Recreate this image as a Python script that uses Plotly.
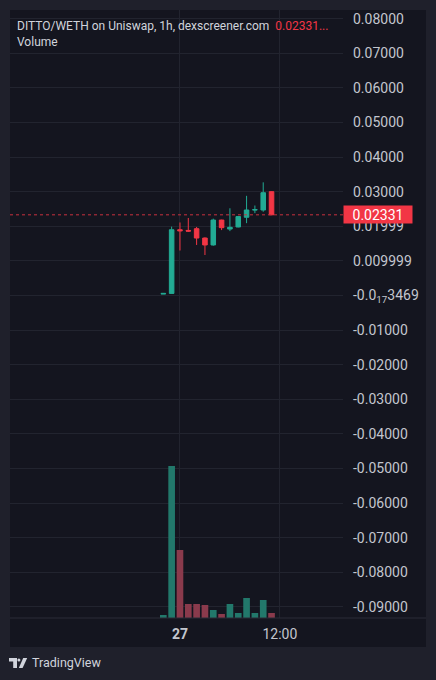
import plotly.graph_objects as go

# ---------------- data ----------------
times = ["2024-03-26 22:00", "2024-03-26 23:00", "2024-03-27 00:00", "2024-03-27 01:00",
         "2024-03-27 02:00", "2024-03-27 03:00", "2024-03-27 04:00", "2024-03-27 05:00",
         "2024-03-27 06:00", "2024-03-27 07:00", "2024-03-27 08:00", "2024-03-27 09:00",
         "2024-03-27 10:00", "2024-03-27 11:00"]
opens = [0.0004, 0.0006, 0.0190, 0.0188, 0.0193, 0.0166, 0.0146, 0.0218, 0.0192, 0.0198, 0.0226, 0.0247, 0.0247, 0.0300]
closes = [0.0006, 0.0190, 0.0187, 0.0186, 0.0166, 0.0146, 0.0218, 0.0196, 0.0197, 0.0228, 0.0247, 0.0248, 0.0297, 0.02331]
highs = [0.0007, 0.0199, 0.0211, 0.0224, 0.0198, 0.0168, 0.0222, 0.0219, 0.0252, 0.0229, 0.0288, 0.0260, 0.0327, 0.0301]
lows = [0.0004, 0.0006, 0.0130, 0.0184, 0.0146, 0.0117, 0.0144, 0.0189, 0.0186, 0.0197, 0.0209, 0.0238, 0.0242, 0.0232]
volumes = [0.6, 30.4, 13.6, 2.8, 2.8, 2.6, 1.6, 0.8, 2.8, 1.0, 4.0, 1.0, 3.6, 1.0]

last_price = 0.02331
price_ticks = [0.08, 0.07, 0.06, 0.05, 0.04, 0.03, 0.01999, 0.009999, 0.0,
               -0.01, -0.02, -0.03, -0.04, -0.05, -0.06, -0.07, -0.08, -0.09]
price_tick_text = ["0.08000", "0.07000", "0.06000", "0.05000", "0.04000", "0.03000",
                   "0.01999", "0.009999", "-0.0<sub>17</sub>3469",
                   "-0.01000", "-0.02000", "-0.03000", "-0.04000", "-0.05000",
                   "-0.06000", "-0.07000", "-0.08000", "-0.09000"]
time_ticks = ["2024-03-27 00:00", "2024-03-27 12:00"]
time_tick_text = ["<b>27</b>", "12:00"]

# ---------------- style ----------------
W, H = 436, 680
ML, MR, MT, MB = 10, 93, 10, 62
OUTER = "#1f202b"
INNER = "#14151f"
GRID = "#22242f"
TXT = "#c3c6ce"
GREEN = "#22ab94"
RED = "#f23645"
VGREEN = "#22786b"
VRED = "#8a3a4c"
FONT = "Roboto"

PW = W - ML - MR
PH = H - MT - MB


def px_x(px):
    return (px - ML) / PW


def px_y(py):
    return (H - MB - py) / PH


vol_colors = [VGREEN if c >= o else VRED for o, c in zip(opens, closes)]

fig = go.Figure()
fig.add_trace(go.Candlestick(
    x=times, open=opens, high=highs, low=lows, close=closes,
    increasing=dict(line=dict(color=GREEN, width=1), fillcolor=GREEN),
    decreasing=dict(line=dict(color=RED, width=1), fillcolor=RED),
    whiskerwidth=0, showlegend=False, hoverinfo="skip",
    xaxis="x", yaxis="y",
))
fig.add_trace(go.Bar(
    x=times, y=volumes, marker=dict(color=vol_colors, line=dict(width=0)),
    width=0.8 * 3600000, showlegend=False, hoverinfo="skip",
    xaxis="x", yaxis="y2",
))

shapes = [
    # inner pane
    dict(type="rect", xref="paper", yref="paper", x0=px_x(10), x1=px_x(426),
         y0=px_y(647), y1=px_y(10), fillcolor=INNER, line=dict(width=0), layer="below"),
    # separator above time axis
    dict(type="line", xref="paper", yref="paper", x0=px_x(10), x1=px_x(426),
         y0=px_y(618), y1=px_y(618), line=dict(color="#2a2c38", width=1)),
    # last price dotted line
    dict(type="line", xref="paper", yref="y", x0=0, x1=1, y0=last_price, y1=last_price,
         line=dict(color="#c8303f", width=1, dash="dot")),
]


def poly(points):
    s = "M " + " L ".join(f"{px_x(a):.5f},{px_y(b):.5f}" for a, b in points) + " Z"
    return s


# TradingView logo (approximation)
shapes.append(dict(type="path", xref="paper", yref="paper",
                   path=poly([(9, 658), (17, 658), (17, 668), (13.2, 668), (13.2, 661.6), (9, 661.6)]),
                   fillcolor="#d1d4dc", line=dict(width=0)))
shapes.append(dict(type="circle", xref="paper", yref="paper",
                   x0=px_x(17.4), x1=px_x(20.4), y0=px_y(661.6), y1=px_y(658.4),
                   fillcolor="#d1d4dc", line=dict(width=0)))
shapes.append(dict(type="path", xref="paper", yref="paper",
                   path=poly([(23.2, 658), (27.2, 658), (22.6, 668), (18.8, 668)]),
                   fillcolor="#d1d4dc", line=dict(width=0)))

annotations = [
    dict(xref="paper", yref="paper", x=px_x(15), y=px_y(26), xanchor="left", yanchor="middle",
         text="DITTO/WETH on Uniswap, 1h, dexscreener.com  <span style='color:#f23645'>0.02331...</span>",
         showarrow=False, font=dict(family=FONT, size=12, color="#d1d4dc")),
    dict(xref="paper", yref="paper", x=px_x(15), y=px_y(42), xanchor="left", yanchor="middle",
         text="Volume", showarrow=False, font=dict(family=FONT, size=12, color="#d1d4dc")),
    dict(xref="paper", yref="y", x=px_x(343), y=last_price, xanchor="left", yanchor="middle",
         text="0.02331", showarrow=False, bgcolor=RED, width=68, height=17, borderpad=0,
         font=dict(family=FONT, size=14, color="#ffffff")),
    dict(xref="paper", yref="paper", x=px_x(30), y=px_y(663), xanchor="left", yanchor="middle",
         text="TradingView", showarrow=False, font=dict(family=FONT, size=12.5, color="#d1d4dc")),
]

fig.update_layout(
    width=W, height=H,
    margin=dict(l=ML, r=MR, t=MT, b=MB),
    paper_bgcolor=OUTER, plot_bgcolor=INNER,
    boxgap=0.22,
    font=dict(family=FONT, color=TXT),
    xaxis=dict(type="date", range=["2024-03-26 03:35", "2024-03-27 19:35"],
               tickvals=time_ticks, ticktext=time_tick_text,
               showgrid=True, gridcolor=GRID, gridwidth=1, zeroline=False, showline=False,
               ticks="", ticklabelstandoff=6, tickfont=dict(family=FONT, size=14, color=TXT),
               rangeslider=dict(visible=False), fixedrange=True),
    yaxis=dict(side="right", range=[-0.0932, 0.0825], tickvals=price_ticks, ticktext=price_tick_text,
               showgrid=True, gridcolor=GRID, gridwidth=1, zeroline=False, showline=False,
               ticks="", ticklabelstandoff=9, tickfont=dict(family=FONT, size=14, color=TXT),
               fixedrange=True),
    yaxis2=dict(overlaying="y", range=[0, 121.6], visible=False, fixedrange=True),
    shapes=shapes,
    annotations=annotations,
    showlegend=False,
)

fig.write_html("out.html", config={"displayModeBar": False, "staticPlot": True},
               post_script="document.body.style.margin='0';document.body.style.background='" + OUTER + "';")
